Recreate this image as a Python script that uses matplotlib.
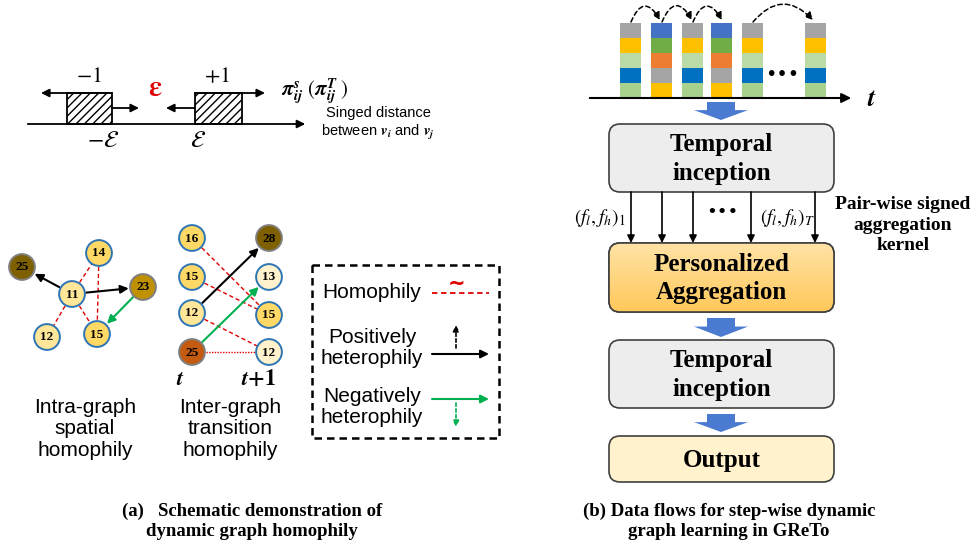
import numpy as np
import matplotlib
matplotlib.use("Agg")
import matplotlib.pyplot as plt
from matplotlib.patches import Rectangle, Circle, FancyArrowPatch, FancyBboxPatch, Polygon
from matplotlib.colors import LinearSegmentedColormap

plt.rcParams['mathtext.fontset'] = 'stix'

SERIF = 'Liberation Serif'
SANS = 'Liberation Sans'

# ---- data ----
intra_labels = ['25', '14', '11', '23', '12', '15']
intra_colors = ['#7F6000', '#FFD966', '#FFE699', '#BF9000', '#FFE699', '#FFD966']
inter_t_labels = ['16', '15', '12', '25']
inter_t_colors = ['#FFD966', '#FFD966', '#FFE699', '#C55A11']
inter_t1_labels = ['28', '13', '15', '12']
inter_t1_colors = ['#7F6000', '#FFF2CC', '#FFD966', '#FFF2CC']

stack_a = ['#A5A5A5', '#FFC000', '#BBDBA6', '#0070C0', '#A9D18E']
stack_b = ['#4472C4', '#70AD47', '#ED7D31', '#A5A5A5', '#FFC000']
column_kinds = ['a', 'b', 'a', 'b', 'a', 'a']

flow_labels = ['Temporal\ninception', 'Personalized\nAggregation', 'Temporal\ninception', 'Output']
flow_colors = ['#EDEDED', '#FFD37A', '#EDEDED', '#FFF2CC']
kernel_label = 'Pair-wise signed\naggregation\nkernel'

caption_a = '(a)   Schematic demonstration of\ndynamic graph homophily'
caption_b = '(b) Data flows for step-wise dynamic\ngraph learning in GReTo'

# ---- canvas in pixel coords ----
fig = plt.figure(figsize=(9.8, 5.55), dpi=100)
ax = fig.add_axes([0, 0, 1, 1])
ax.set_xlim(0, 980)
ax.set_ylim(555, 0)
ax.axis('off')


def arrow(p0, p1, color='black', lw=1.3, ls='-', ms=12, sa=0, sb=0, rad=0.0, z=3):
    a = FancyArrowPatch(p0, p1, arrowstyle='-|>', mutation_scale=ms, color=color,
                        lw=lw, linestyle=ls, shrinkA=sa, shrinkB=sb,
                        connectionstyle=f'arc3,rad={rad}', zorder=z)
    ax.add_patch(a)


def block_arrow(xc, y0, y1):
    sw, hw = 14, 27
    ym = y0 + (y1 - y0) * 0.45
    pts = [(xc - sw, y0), (xc + sw, y0), (xc + sw, ym), (xc + hw, ym),
           (xc, y1), (xc - hw, ym), (xc - sw, ym)]
    ax.add_patch(Polygon(pts, closed=True, fc='#4A7BD0', ec='none', zorder=3))


# ---- (a) top: signed distance ----
ax.annotate('', xy=(308, 124), xytext=(25, 124),
            arrowprops=dict(arrowstyle='-|>', color='black', lw=1.3, mutation_scale=12))
for x0, x1 in [(67, 112), (195, 242)]:
    ax.add_patch(Rectangle((x0, 93), x1 - x0, 31, fc='white', ec='black', lw=1.3,
                           hatch='////', zorder=2))
arrow((112, 93), (41, 93))
arrow((195, 93), (265, 93))
arrow((112, 108), (139, 108))
arrow((195, 108), (166, 108))
ax.text(89, 76, '$-1$', fontsize=16, ha='center', va='center')
ax.text(217, 76, '$+1$', fontsize=16, ha='center', va='center')
ax.text(155, 88, r'$\mathbf{\epsilon}$', fontsize=21, color='#E00000', ha='center', va='center')
ax.text(103, 140, r'$-\mathcal{E}$', fontsize=17, ha='center', va='center')
ax.text(198, 140, r'$\mathcal{E}$', fontsize=17, ha='center', va='center')
ax.text(281, 92, r'$\mathbfit{\pi}_{\mathbfit{ij}}^{\mathbfit{s}}\ (\mathbfit{\pi}_{\mathbfit{ij}}^{\mathbfit{T}}\ )$',
        fontsize=15, ha='left', va='center')
ax.text(378, 113, 'Singed distance', fontsize=10.5, family=SANS, ha='center', va='center')
ax.text(378, 133, r'between $\mathbfit{v}_{\mathbfit{i}}$ and $\mathbfit{v}_{\mathbfit{j}}$',
        fontsize=10.5, family=SANS, ha='center', va='center')

# ---- (a) graphs ----
R = 12.9
intra_pos = [(22, 267), (99, 253), (72, 294), (143, 287), (47, 337), (97, 334)]
t_pos = [(192, 238), (192, 277), (192, 313), (192, 352)]
t1_pos = [(269, 238), (269, 277), (269, 315), (269, 352)]


def node(p, lab, col):
    dark = col in ('#7F6000', '#BF9000', '#C55A11')
    ax.add_patch(Circle(p, R, fc=col, ec='#7F7F7F' if dark else '#2E75B6', lw=1.4, zorder=5))
    ax.text(p[0], p[1] + 0.5, lab, fontsize=9.5, family=SERIF, weight='bold',
            ha='center', va='center', zorder=6)


def red(p0, p1, ls=(0, (3, 2)), alpha=1.0):
    ax.plot([p0[0], p1[0]], [p0[1], p1[1]], color='#E00000', lw=1.0, linestyle=ls,
            alpha=alpha, zorder=2)


SH = R * 0.72 + 1
for i, j in [(2, 1), (1, 5), (2, 4), (2, 5)]:
    red(intra_pos[i], intra_pos[j])
arrow(intra_pos[2], intra_pos[0], sa=SH, sb=SH, lw=1.5)
arrow(intra_pos[2], intra_pos[3], sa=SH, sb=SH, lw=1.5)
arrow(intra_pos[3], intra_pos[5], color='#00B050', sa=SH, sb=SH, lw=1.5)

red(t_pos[0], t1_pos[2])
red(t_pos[1], t1_pos[2])
red(t_pos[2], t1_pos[3])
red(t_pos[3], t1_pos[3], ls=(0, (1, 1)))
arrow(t_pos[2], t1_pos[0], sa=SH, sb=SH, lw=1.5)
arrow(t_pos[3], t1_pos[1], color='#00B050', sa=SH, sb=SH, lw=1.5)

for p, lab, col in zip(intra_pos, intra_labels, intra_colors):
    node(p, lab, col)
for p, lab, col in zip(t_pos, inter_t_labels, inter_t_colors):
    node(p, lab, col)
for p, lab, col in zip(t1_pos, inter_t1_labels, inter_t1_colors):
    node(p, lab, col)

ax.text(180, 379, '$\\mathbfit{t}$', fontsize=16, ha='center', va='center')
ax.text(258, 379, '$\\mathbfit{t}\\mathbf{+1}$', fontsize=16, ha='center', va='center')
ax.text(85, 429, 'Intra-graph\nspatial\nhomophily', fontsize=15, family=SANS,
        ha='center', va='center', linespacing=1.18)
ax.text(230, 429, 'Inter-graph\ntransition\nhomophily', fontsize=15, family=SANS,
        ha='center', va='center', linespacing=1.18)

# ---- legend box ----
ax.add_patch(Rectangle((312, 265), 187, 173, fc='none', ec='black', lw=1.8,
                       linestyle=(0, (3, 2)), zorder=2))
ax.text(372, 293, 'Homophily', fontsize=15, family=SANS, ha='center', va='center')
ax.plot([432, 489], [293, 293], color='#E00000', lw=1.3, linestyle=(0, (3, 2)))
ax.text(457, 284, '~', fontsize=15, color='#E00000', weight='bold', ha='center', va='center')
ax.text(372, 348, 'Positively\nheterophily', fontsize=15, family=SANS,
        ha='center', va='center', linespacing=1.12)
arrow((432, 354), (489, 354), lw=1.5)
arrow((456, 348), (456, 325), lw=1.2, ls=(0, (2, 1.5)), ms=9)
ax.text(372, 407, 'Negatively\nheterophily', fontsize=15, family=SANS,
        ha='center', va='center', linespacing=1.12)
arrow((432, 399), (489, 399), color='#00B050', lw=1.5)
arrow((456, 403), (456, 427), color='#00B050', lw=1.2, ls=(0, (2, 1.5)), ms=9)

# ---- (b) stacked snapshot columns ----
col_x = [630.5, 661.5, 692, 721.5, 752.5, 815.8]
cw, rh, top = 21, 15, 23
for cx, kind in zip(col_x, column_kinds):
    colors = stack_a if kind == 'a' else stack_b
    for k, c in enumerate(colors):
        ax.add_patch(Rectangle((cx - cw / 2, top + k * rh), cw, rh, fc=c, ec='none', zorder=2))
ax.annotate('', xy=(854, 98), xytext=(587, 98),
            arrowprops=dict(arrowstyle='-|>', color='black', lw=1.5, mutation_scale=14))
ax.text(872, 99, '$\\mathbfit{t}$', fontsize=19, ha='center', va='center')
ax.text(782, 75, '\u2022\u2022\u2022', fontsize=14, ha='center', va='center')

for (x0, x1), rad in zip([(631, 660), (662, 692), (693, 722), (753, 813)],
                         [-1.0, -1.0, -1.0, -0.55]):
    arrow((x0, 22), (x1, 20), lw=1.1, ls=(0, (3, 2)), ms=11, rad=rad)

# ---- (b) flow boxes ----
box_y = [(124, 192), (243, 312), (340, 408), (436, 482)]
bx0, bx1 = 609, 834
for (y0, y1), lab, col in zip(box_y, flow_labels, flow_colors):
    patch = FancyBboxPatch((bx0, y0), bx1 - bx0, y1 - y0,
                           boxstyle='round,pad=0,rounding_size=11',
                           fc=col, ec='#404040', lw=1.2, zorder=2)
    ax.add_patch(patch)
    if lab.startswith('Personalized'):
        grad = np.linspace(0, 1, 100).reshape(-1, 1)
        cmap = LinearSegmentedColormap.from_list('g', ['#FFE3A6', '#FFC85A'])
        im = ax.imshow(grad, cmap=cmap, extent=(bx0, bx1, y1, y0), aspect='auto', zorder=2.1)
        im.set_clip_path(patch)
        ax.add_patch(FancyBboxPatch((bx0, y0), bx1 - bx0, y1 - y0,
                                    boxstyle='round,pad=0,rounding_size=11',
                                    fc='none', ec='#404040', lw=1.2, zorder=2.2))
    ax.text((bx0 + bx1) / 2, (y0 + y1) / 2 + 1, lab, fontsize=18, family=SERIF,
            weight='bold', ha='center', va='center', linespacing=1.28, zorder=4)

block_arrow(721, 102, 120)
block_arrow(721, 318, 337)
block_arrow(721, 414, 432)

for x in [631, 662, 693, 751, 815]:
    arrow((x, 192), (x, 243), lw=1.2, ms=11)
ax.text(722, 212, '\u2022\u2022\u2022', fontsize=13, ha='center', va='center')
ax.text(600, 218, r'$(f_{l},f_{h})_1$', fontsize=14, ha='center', va='center')
ax.text(787, 218, r'$(f_{l},f_{h})_T$', fontsize=14, ha='center', va='center')
ax.text(903, 225, kernel_label, fontsize=14, family=SERIF, weight='bold',
        ha='center', va='center', linespacing=1.3)

# ---- captions ----
ax.text(252, 521, caption_a, fontsize=13.5, family=SERIF, weight='bold',
        ha='center', va='center', linespacing=1.25)
ax.text(729, 521, caption_b, fontsize=13.5, family=SERIF, weight='bold',
        ha='center', va='center', linespacing=1.25)

fig.savefig('out.png', dpi=100)
